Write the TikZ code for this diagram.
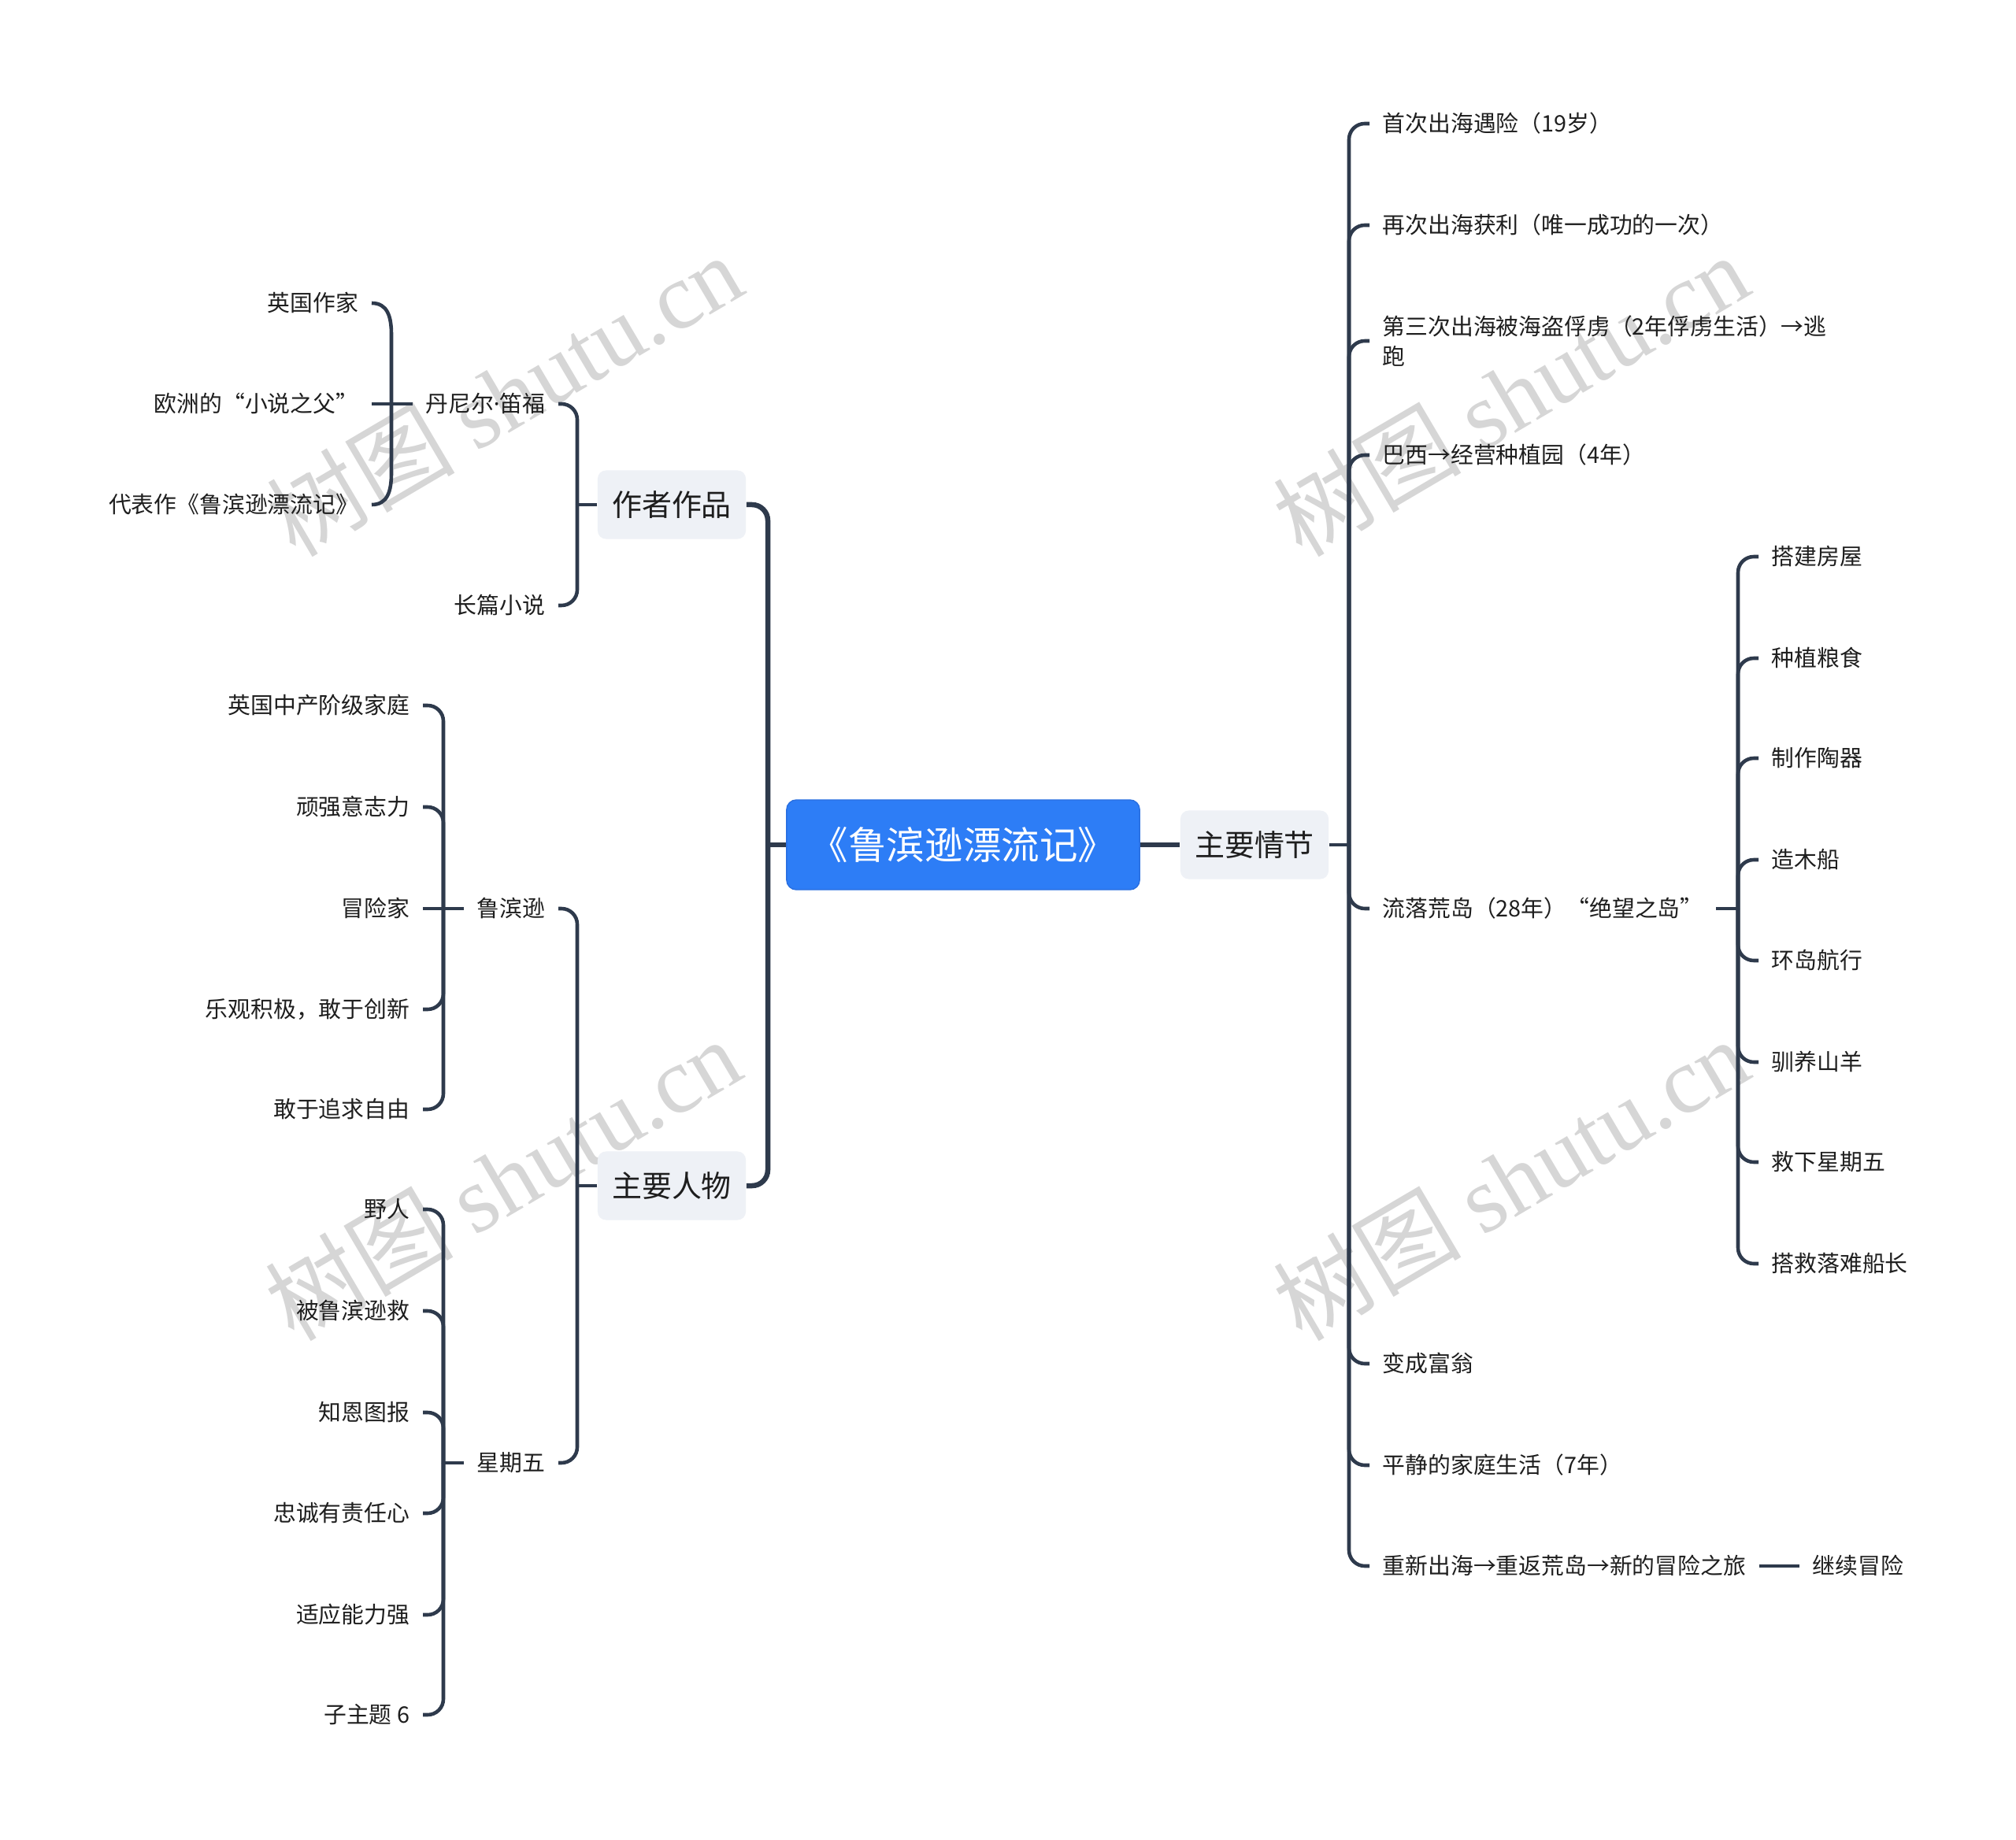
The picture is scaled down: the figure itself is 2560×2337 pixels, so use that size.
\documentclass[tikz,border=0pt]{standalone}
\usepackage{fontspec}
\setmainfont{Noto Sans CJK SC}
\newfontfamily\wmserif{Liberation Serif}
\newfontfamily\latinf{Noto Sans}
\definecolor{rootblue}{HTML}{2D7DF6}
\definecolor{rootedge}{HTML}{2A6FE0}
\definecolor{mainfill}{HTML}{EEF1F6}
\definecolor{linecol}{HTML}{2E3A4C}
\definecolor{txtcol}{HTML}{1E1E1E}
\definecolor{wmgray}{HTML}{D6D6D6}
\newcommand{\lffont}{\fontsize{8.2pt}{10.7pt}\selectfont}
\newcommand{\mtfont}{\fontsize{10.8pt}{12pt}\selectfont}
\newcommand{\rtfont}{\fontsize{13.8pt}{15pt}\selectfont}
\newcommand{\wmfont}{\fontsize{34pt}{34pt}\selectfont}
\tikzset{
  leaf/.style={inner xsep=0.16cm, inner ysep=0pt, font=\lffont, text=txtcol, text height=7.2pt, text depth=1pt},
  leafm/.style={inner xsep=0.16cm, inner ysep=0pt, font=\lffont, text=txtcol, align=left},
  topic/.style={fill=mainfill, rounded corners=3pt, minimum width=1.88cm, minimum height=0.87cm, inner sep=0pt, font=\mtfont, text=txtcol, text height=9.5pt, text depth=1.3pt},
  rootbox/.style={fill=rootblue, draw=rootedge, line width=0.4pt, rounded corners=3.5pt, minimum width=4.48cm, minimum height=1.14cm, inner sep=0pt, font=\rtfont, text=white, text height=12.1pt, text depth=1.6pt},
  conn/.style={draw=linecol, line width=1.3pt, rounded corners=0.2cm},
  thickconn/.style={conn, line width=1.85pt},
  wm/.style={text=wmgray, font=\wmfont, rotate=30.5, inner sep=0pt}
}
\begin{document}
\begin{tikzpicture}[x=0.01cm, y=-0.01cm]
\useasboundingbox (0,0) rectangle (2560,2337);
\fill[white] (0,0) rectangle (2560,2337);

% watermarks
\foreach \x/\y/\n in {640/501/1, 638/1497/2, 1918/501/3, 1918/1497/4}
  \node[wm] (wm\n) at (\x,\y) {树图 {\wmserif shutu.cn}};

% root and main topics
\node[rootbox] (root) at (1223,1073) {《鲁滨逊漂流记》};
\node[topic] (plot) at (1593,1073) {主要情节};
\node[topic] (works) at (853,641) {作者作品};
\node[topic] (chars) at (853,1506) {主要人物};

% junction points
\coordinate (jR) at (1713,1073);
\coordinate (jL) at (975,1073);
\coordinate (jA) at (733,641);
\coordinate (jB) at (733,1506);
\coordinate (jD) at (497,513);
\coordinate (jC1) at (563,1154);
\coordinate (jC2) at (563,1858);
\coordinate (jS) at (2207,1154);

% right: main plot
\node[leaf, anchor=west] (p1) at (1739,157) {首次出海遇险（19岁）};
\node[leaf, anchor=west] (p2) at (1739,286) {再次出海获利（唯一成功的一次）};
\node[leafm, anchor=west] (p3) at (1739,433) {第三次出海被海盗俘虏（2年俘虏生活）→逃\\跑};
\node[leaf, anchor=west] (p4) at (1739,578) {巴西→经营种植园（4年）};
\node[leaf, anchor=west] (p5) at (1739,1154) {流落荒岛（28年）“绝望之岛”};
\node[leaf, anchor=west] (p6) at (1739,1732) {变成富翁};
\node[leaf, anchor=west] (p7) at (1739,1861) {平静的家庭生活（7年）};
\node[leaf, anchor=west] (p8) at (1739,1989) {重新出海→重返荒岛→新的冒险之旅};
\node[leaf, anchor=west] (p8a) at (2285,1989) {继续冒险};

\node[leaf, anchor=west] (s1) at (2233,707) {搭建房屋};
\node[leaf, anchor=west] (s2) at (2233,836) {种植粮食};
\node[leaf, anchor=west] (s3) at (2233,963) {制作陶器};
\node[leaf, anchor=west] (s4) at (2233,1092) {造木船};
\node[leaf, anchor=west] (s5) at (2233,1220) {环岛航行};
\node[leaf, anchor=west] (s6) at (2233,1349) {驯养山羊};
\node[leaf, anchor=west] (s7) at (2233,1476) {救下星期五};
\node[leaf, anchor=west] (s8) at (2233,1605) {搭救落难船长};

% left: author
\node[leaf, anchor=east] (a1) at (709,513) {丹尼尔{\latinf ·}笛福};
\node[leaf, anchor=east] (a2) at (709,769) {长篇小说};
\node[leaf, anchor=east] (a11) at (472,385) {英国作家};
\node[leaf, anchor=east] (a12) at (472,513) {欧洲的“小说之父”};
\node[leaf, anchor=east] (a13) at (472,641) {代表作《鲁滨逊漂流记》};

% left: characters
\node[leaf, anchor=east] (c1) at (709,1154) {鲁滨逊};
\node[leaf, anchor=east] (c2) at (709,1858) {星期五};
\node[leaf, anchor=east] (c11) at (537,896) {英国中产阶级家庭};
\node[leaf, anchor=east] (c12) at (537,1025) {顽强意志力};
\node[leaf, anchor=east] (c13) at (537,1154) {冒险家};
\node[leaf, anchor=east] (c14) at (537,1282) {乐观积极，敢于创新};
\node[leaf, anchor=east] (c15) at (537,1409) {敢于追求自由};
\node[leaf, anchor=east] (c21) at (537,1536) {野人};
\node[leaf, anchor=east] (c22) at (537,1665) {被鲁滨逊救};
\node[leaf, anchor=east] (c23) at (537,1794) {知恩图报};
\node[leaf, anchor=east] (c24) at (537,1922) {忠诚有责任心};
\node[leaf, anchor=east] (c25) at (537,2051) {适应能力强};
\node[leaf, anchor=east] (c26) at (537,2178) {子主题 6};

% connectors: root level
\draw[thickconn] (root.east) -- (plot.west);
\draw[thickconn] (root.west) -- (jL);
\draw[thickconn] (jL) |- (works.east);
\draw[thickconn] (jL) |- (chars.east);

% plot branches
\draw[conn] (plot.east) -- (jR);
\foreach \c in {p1,p2,p3,p4,p5,p6,p7,p8}
  \draw[conn] (jR) |- (\c.west);
\draw[conn] (p8.east) -- (p8a.west);
\draw[conn] (p5.east) -- (jS);
\foreach \c in {s1,s2,s3,s4,s5,s6,s7,s8}
  \draw[conn] (jS) |- (\c.west);

% works branches
\draw[conn] (works.west) -- (jA);
\draw[conn] (jA) |- (a1.east);
\draw[conn] (jA) |- (a2.east);
\draw[conn] (a1.west) -- (jD);
\draw[conn] (jD) -- (a12.east);
\draw[conn] (jD) -- (497,445) .. controls (497,402) and (492,385) .. (a11.east);
\draw[conn] (jD) -- (497,581) .. controls (497,624) and (492,641) .. (a13.east);

% characters branches
\draw[conn] (chars.west) -- (jB);
\draw[conn] (jB) |- (c1.east);
\draw[conn] (jB) |- (c2.east);
\draw[conn] (c1.west) -- (jC1);
\draw[conn] (jC1) -- (c13.east);
\foreach \c in {c11,c12,c14,c15}
  \draw[conn] (jC1) |- (\c.east);
\draw[conn] (c2.west) -- (jC2);
\foreach \c in {c21,c22,c23,c24,c25,c26}
  \draw[conn] (jC2) |- (\c.east);
\end{tikzpicture}
\end{document}
